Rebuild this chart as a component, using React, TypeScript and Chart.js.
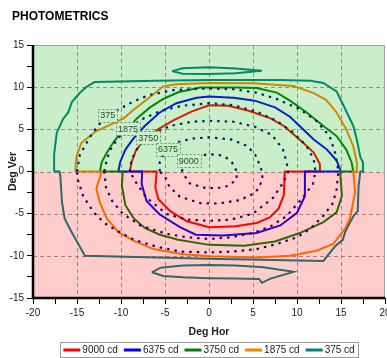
import React, { useEffect, useRef } from 'react';
import { Chart, registerables } from 'chart.js';

Chart.register(...registerables);

type P = [number, number];

const FONT = '"Liberation Sans", Arial, sans-serif';

// Legend / series
const levelLabels = ['9000 cd', '6375 cd', '3750 cd', '1875 cd', '375 cd'];
const levelColors = ['#ff0000', '#0000ff', '#008000', '#ff8000', '#008080'];
const dottedColor = '#000080';

// Axis ranges and ticks
const xMin = -20;
const xMax = 20;
const yMin = -15;
const yMax = 15;
const tickStep = 2.5;
const labelStep = 5;
const xGridValues = [-15, -10, -5, 0, 5, 10, 15];
const yGridValues = [10, 5, 0, -5, -10];

// Solid isocandela contours (deg hor, deg ver)
const c9000: P[] = [
  [-9, 0], [-8.8, 1.1], [-8.3, 2.5], [-7.5, 3.6], [-5.8, 5.0], [-4.0, 6.1], [-2.0, 7.1], [0, 7.85],
  [2.2, 7.8], [4.5, 7.2], [7.0, 6.3], [8.5, 5.4], [9.4, 4.6], [10.7, 3.4], [11.9, 2.25], [12.6, 0.9], [12.6, 0],
  [8.6, 0], [8.5, -2.8], [7.9, -4.4], [6.9, -5.45], [5.4, -6.1], [3.0, -6.5], [0, -6.6], [-2.5, -5.9],
  [-4.4, -4.7], [-5.75, -3.3], [-6.1, -1.9], [-5.95, 0], [-9, 0],
];
const c6375: P[] = [
  [-10.3, 0], [-10.1, 1.1], [-9.5, 2.6], [-8.6, 3.9], [-7.3, 5.4], [-5.6, 7.0], [-3.7, 8.1], [-1.4, 8.75],
  [0, 8.9], [2.8, 8.75], [5.2, 8.4], [7.5, 7.6], [9.2, 6.5], [10.3, 5.4], [11.9, 3.8], [13.4, 2.6], [14.5, 1.3], [15.0, 0],
  [10.9, 0], [10.9, -2.9], [10.0, -4.9], [8.1, -6.4], [5.4, -7.3], [1.6, -7.6], [-1.5, -7.5], [-3.3, -6.6],
  [-5.6, -5.1], [-7.1, -3.5], [-7.65, -1.5], [-7.6, 0], [-10.3, 0],
];
const c3750: P[] = [
  [-12.4, 0], [-12.2, 1.1], [-11.6, 2.25], [-10.9, 3.4], [-10.1, 4.5], [-9, 5.3], [-8.2, 6.3], [-6.7, 7.6],
  [-5.2, 8.6], [-3.5, 9.4], [-1, 9.95], [3, 9.95], [5.4, 9.9], [7.7, 9.35], [9.2, 8.4], [11.1, 7.0], [13, 5.4],
  [14.5, 4.2], [15.6, 2.6], [16.2, 1.1], [16.4, 0],
  [14.9, 0], [15.1, -2.9], [14.5, -4.85], [13, -6.0], [10.3, -7.3], [7.5, -8.3], [4, -8.8], [0, -8.7],
  [-3.5, -8.1], [-5.6, -7.5], [-7.3, -6.7], [-8.6, -5.5], [-9.5, -4.0], [-9.9, -1.7], [-9.8, 0], [-12.4, 0],
];
const c1875: P[] = [
  [-15.2, 0], [-15.05, 1.85], [-14.5, 3.4], [-12.8, 4.8], [-11.3, 5.5], [-9.7, 6.3], [-8.6, 7.3], [-7.1, 8.5],
  [-5.2, 10.1], [-3.7, 10.35], [0, 10.5], [5, 10.45], [9.6, 10.15], [11.9, 9.3], [13.3, 8.5], [14.5, 7.0],
  [15.6, 5.0], [16.4, 3.0], [16.8, 1.1], [16.8, 0],
  [16.4, 0], [16.6, -2.5], [16.0, -5.6], [15.45, -6.8], [14.7, -7.8], [14.1, -8.6], [12.2, -9.4], [9.2, -10.0],
  [5.4, -10.2], [0, -10.05], [-2.9, -9.8], [-5.2, -9.4], [-6.3, -9.2], [-8.6, -8.2], [-10.3, -7.2], [-11.6, -5.6],
  [-12.4, -3.7], [-12.8, -2.1], [-12.6, -1.3], [-12.2, 0], [-15.2, 0],
];
const c375: P[] = [
  [-17.6, 0], [-17.6, 2.0], [-17.3, 4.6], [-16.6, 6.2], [-16, 7.0], [-15.6, 8.2], [-14.7, 9.3], [-13.9, 10.05],
  [-13, 10.6], [-6, 10.75], [0, 10.85], [8, 10.85], [11.5, 10.75], [13, 10.5], [14.5, 9.5], [15.3, 7.8],
  [16.4, 5.4], [16.8, 3.8], [17.2, 1.7], [17.5, 1.1], [17.5, 0],
  [17.2, 0], [17.0, -1.7], [16.9, -4.7], [16.4, -5.3], [15.5, -7.1], [15.2, -8.1], [14.3, -8.9], [13.0, -10.6],
  [0, -10.35], [-14.1, -10.0], [-14.85, -8.6], [-15.6, -7.2], [-16.4, -5.6], [-16.7, -3.7], [-16.9, -0.5],
  [-17, 0], [-17.6, 0],
];
const lens375Top: P[] = [
  [-4.2, 11.9], [-3, 12.25], [0, 12.35], [3, 12.2], [6, 11.95], [3, 11.65], [0, 11.55], [-3, 11.6], [-4.2, 11.9],
];
const lens375Bottom: P[] = [
  [-6.5, -11.95], [-5.5, -11.4], [-3, -11.15], [0, -11.1], [3, -11.15], [6.2, -11.35], [9.6, -11.9],
  [7, -12.7], [6, -13.2], [5.7, -12.75], [3, -12.7], [0, -12.65], [-3, -12.55], [-5.2, -12.4], [-6.5, -11.95],
];

// Dotted reference contours
const dot1: P[] = [
  [-3.1, 0], [-2.6, 1.2], [-1.5, 1.8], [0, 2.05], [1.2, 1.95], [2.0, 1.6], [2.6, 1.1], [3.0, 0.3], [3.2, 0],
  [3.1, -1.0], [2.2, -1.7], [0.8, -2.0], [-0.7, -1.9], [-2.2, -1.4], [-2.9, -0.3], [-3.1, 0],
];
const dot2: P[] = [
  [-5.6, 0], [-5.6, 1.1], [-5.0, 2.4], [-3.8, 3.4], [-2, 3.9], [0, 4.05], [2.5, 3.8], [4.4, 3.0], [5.3, 1.9],
  [5.8, 0.7], [6.0, 0], [6.1, -1.0], [5.3, -2.5], [3.5, -3.4], [1.0, -3.8], [-1.0, -3.75], [-3.3, -3.0],
  [-4.5, -1.8], [-5.0, -0.6], [-5.6, 0],
];
const dot3: P[] = [
  [-9.0, 0], [-8.8, 1.4], [-8.0, 3.0], [-6.5, 4.4], [-4.4, 5.4], [-2, 5.9], [0, 6.0], [2.8, 5.9], [5.2, 5.3],
  [7.2, 4.3], [8.4, 2.6], [8.8, 1.2], [9.0, 0], [8.5, -1.2], [7.3, -3.1], [5, -5.0], [2.5, -5.7], [0, -5.85],
  [-2.5, -5.7], [-4.8, -5.05], [-7.1, -3.1], [-8.3, -1.3], [-9.0, 0],
];
const dot4: P[] = [
  [-11.9, 0], [-11.6, 1.45], [-11.2, 2.6], [-10.4, 3.9], [-9.2, 5.1], [-7.6, 6.2], [-5.5, 7.2], [-3, 7.8],
  [0, 8.1], [2.8, 7.85], [5.4, 7.1], [7.7, 6.0], [9.6, 4.6], [11.1, 3.0], [11.9, 1.45], [12.1, 0],
  [11.8, -1.5], [10.5, -3.3], [8.8, -5.3], [7, -6.5], [5, -7.3], [2.5, -7.8], [0, -8.0], [-2.5, -7.8],
  [-4.8, -7.4], [-7.8, -6.4], [-9.8, -5.0], [-11.0, -3.5], [-11.7, -1.9], [-11.9, 0],
];
const dot5: P[] = [
  [-15, 0], [-14.7, 1.9], [-13.7, 3.8], [-12.6, 5.5], [-10.9, 7.0], [-8.6, 8.3], [-6.7, 9.1], [-4, 9.65],
  [0, 9.85], [2.8, 9.75], [5.4, 9.35], [7.7, 8.6], [10.3, 7.4], [12.2, 6.0], [13.7, 4.2], [14.4, 2.0], [14.7, 0],
  [14.5, -2.1], [14.1, -3.7], [13, -5.25], [11.5, -6.8], [10, -7.8], [7.7, -8.6], [5.4, -9.2], [2.5, -9.5],
  [0, -9.6], [-3.3, -9.5], [-6, -8.9], [-8.5, -8.1], [-10.5, -7.0], [-11.9, -6.1], [-13.1, -4.85],
  [-14.3, -2.9], [-14.9, -1.0], [-15, 0],
];

// Contour value labels
const labelTexts = ['375', '1875', '3750', '6375', '9000'];
const labelX = [-11.5, -9.2, -6.9, -4.65, -2.3];
const labelY = [6.65, 5.05, 4.0, 2.65, 1.3];

const mainContours = [c9000, c6375, c3750, c1875, c375];
const dottedContours = [dot1, dot2, dot3, dot4, dot5];

const toXY = (pts: P[]) => pts.map(([x, y]) => ({ x, y }));

const decorPlugin = {
  id: 'photoDecor',
  beforeDatasetsDraw(chart: any) {
    const { ctx, chartArea: a, scales } = chart;
    const xs = scales.x;
    const ys = scales.y;
    ctx.save();
    ctx.strokeStyle = '#9a9a9a';
    ctx.lineWidth = 1;
    ctx.setLineDash([4, 3]);
    xGridValues.forEach((v) => {
      const px = Math.round(xs.getPixelForValue(v)) + 0.5;
      ctx.beginPath();
      ctx.moveTo(px, a.top);
      ctx.lineTo(px, a.bottom);
      ctx.stroke();
    });
    yGridValues.forEach((v) => {
      const py = Math.round(ys.getPixelForValue(v)) + 0.5;
      ctx.beginPath();
      ctx.moveTo(a.left, py);
      ctx.lineTo(a.right, py);
      ctx.stroke();
    });
    ctx.restore();
  },
  afterDatasetsDraw(chart: any) {
    const { ctx, chartArea: a, scales } = chart;
    const xs = scales.x;
    const ys = scales.y;
    ctx.save();
    // contour value labels
    ctx.font = `9px ${FONT}`;
    ctx.textAlign = 'center';
    ctx.textBaseline = 'middle';
    labelTexts.forEach((t, i) => {
      const px = xs.getPixelForValue(labelX[i]);
      const py = ys.getPixelForValue(labelY[i]);
      const w = ctx.measureText(t).width + 4;
      const h = 13;
      ctx.fillStyle = '#ffffff';
      ctx.fillRect(px - w / 2, py - h / 2, w, h);
      ctx.setLineDash([2, 2]);
      ctx.strokeStyle = '#7a8a9a';
      ctx.lineWidth = 1;
      ctx.strokeRect(Math.round(px - w / 2) + 0.5, Math.round(py - h / 2) + 0.5, Math.round(w), h);
      ctx.setLineDash([]);
      ctx.fillStyle = '#333333';
      ctx.fillText(t, px, py + 0.5);
    });
    // translucent half-plane overlays
    const y0 = ys.getPixelForValue(0);
    ctx.fillStyle = 'rgba(0,175,0,0.21)';
    ctx.fillRect(a.left, a.top, a.right - a.left, y0 - a.top);
    ctx.fillStyle = 'rgba(255,0,0,0.2)';
    ctx.fillRect(a.left, y0, a.right - a.left, a.bottom - y0);
    // plot frame
    ctx.strokeStyle = '#a0a0a0';
    ctx.lineWidth = 1;
    ctx.beginPath();
    ctx.moveTo(a.left, a.top + 0.5);
    ctx.lineTo(a.right - 0.5, a.top + 0.5);
    ctx.lineTo(a.right - 0.5, a.bottom);
    ctx.stroke();
    ctx.strokeStyle = '#000000';
    ctx.lineWidth = 2.5;
    ctx.beginPath();
    ctx.moveTo(a.left, a.top);
    ctx.lineTo(a.left, a.bottom);
    ctx.lineTo(a.right, a.bottom);
    ctx.stroke();
    ctx.restore();
  },
  afterDraw(chart: any) {
    const { ctx, chartArea: a } = chart;
    ctx.save();
    ctx.fillStyle = '#000000';
    ctx.font = `bold 12px ${FONT}`;
    ctx.textAlign = 'left';
    ctx.textBaseline = 'alphabetic';
    ctx.fillText('PHOTOMETRICS', 12, 20);

    ctx.fillStyle = '#222222';
    ctx.font = `bold 10.5px ${FONT}`;
    ctx.textAlign = 'center';
    ctx.fillText('Deg Hor', (a.left + a.right) / 2, 335);
    ctx.save();
    ctx.translate(16, (a.top + a.bottom) / 2);
    ctx.rotate(-Math.PI / 2);
    ctx.fillText('Deg Ver', 0, 0);
    ctx.restore();

    // legend
    ctx.font = `10px ${FONT}`;
    const lineLen = 17;
    const gapLT = 2;
    const gapItems = 6;
    const widths = levelLabels.map((t) => ctx.measureText(t).width);
    const total = widths.reduce((s, w) => s + lineLen + gapLT + w, 0) + gapItems * (levelLabels.length - 1);
    const cx = (a.left + a.right) / 2;
    let x = cx - total / 2;
    const ly = 350;
    ctx.strokeStyle = '#9a9a9a';
    ctx.lineWidth = 1;
    ctx.strokeRect(Math.round(x - 3) + 0.5, 342.5, Math.round(total + 7), 15);
    ctx.textAlign = 'left';
    ctx.textBaseline = 'middle';
    levelLabels.forEach((t, i) => {
      ctx.strokeStyle = levelColors[i];
      ctx.lineWidth = 3;
      ctx.beginPath();
      ctx.moveTo(x, ly);
      ctx.lineTo(x + lineLen, ly);
      ctx.stroke();
      ctx.fillStyle = '#222222';
      ctx.fillText(t, x + lineLen + gapLT, ly + 0.5);
      x += lineLen + gapLT + widths[i] + gapItems;
    });
    ctx.restore();
  },
};

export default function App() {
  const ref = useRef<HTMLCanvasElement | null>(null);

  useEffect(() => {
    if (!ref.current) return;
    const datasets: any[] = [];
    mainContours.forEach((pts, i) => {
      datasets.push({
        label: levelLabels[i],
        data: toXY(pts),
        borderColor: levelColors[i],
        backgroundColor: levelColors[i],
        borderWidth: 2,
        showLine: true,
        pointRadius: 0,
        pointHoverRadius: 0,
        tension: 0,
        order: 5 - i + 1,
      });
    });
    [lens375Top, lens375Bottom].forEach((pts) => {
      datasets.push({
        label: '375 cd lens',
        data: toXY(pts),
        borderColor: levelColors[4],
        backgroundColor: levelColors[4],
        borderWidth: 2,
        showLine: true,
        pointRadius: 0,
        pointHoverRadius: 0,
        tension: 0,
        order: 2,
      });
    });
    dottedContours.forEach((pts, i) => {
      datasets.push({
        label: 'ref ' + i,
        data: toXY(pts),
        borderColor: dottedColor,
        backgroundColor: dottedColor,
        borderWidth: 2.2,
        borderDash: [2.5, 5],
        showLine: true,
        pointRadius: 0,
        pointHoverRadius: 0,
        tension: 0,
        order: 0,
      });
    });

    const tickFont = { family: FONT, size: 10 };
    const chart = new Chart(ref.current, {
      type: 'scatter',
      data: { datasets },
      options: {
        animation: false,
        responsive: false,
        devicePixelRatio: 1,
        events: [],
        layout: { padding: { top: 45, left: 0, right: 2, bottom: 40 } },
        plugins: { legend: { display: false }, tooltip: { enabled: false }, title: { display: false } },
        scales: {
          x: {
            type: 'linear',
            min: xMin,
            max: xMax,
            afterFit: (s: any) => {
              s.height = 20;
              s.paddingLeft = 0;
              s.paddingRight = 0;
            },
            ticks: {
              stepSize: tickStep,
              autoSkip: false,
              maxRotation: 0,
              padding: 3,
              color: '#222222',
              font: tickFont,
              callback: (v: any) => (Number(v) % labelStep === 0 ? String(Number(v)) : ''),
            },
            grid: { drawOnChartArea: false, drawTicks: true, tickLength: 6, tickColor: '#000000', tickWidth: 1 },
            border: { display: false },
          },
          y: {
            type: 'linear',
            min: yMin,
            max: yMax,
            afterFit: (s: any) => {
              s.width = 33;
              s.paddingTop = 0;
              s.paddingBottom = 0;
            },
            ticks: {
              stepSize: tickStep,
              autoSkip: false,
              padding: 3,
              color: '#222222',
              font: tickFont,
              callback: (v: any) => (Number(v) % labelStep === 0 ? String(Number(v)) : ''),
            },
            grid: { drawOnChartArea: false, drawTicks: true, tickLength: 6, tickColor: '#000000', tickWidth: 1 },
            border: { display: false },
          },
        },
      },
      plugins: [decorPlugin],
    } as any);
    return () => chart.destroy();
  }, []);

  return (
    <div style={{ position: 'absolute', left: 0, top: 0, width: 387, height: 358, background: '#ffffff' }}>
      <canvas ref={ref} width={387} height={358} style={{ display: 'block' }} />
    </div>
  );
}
